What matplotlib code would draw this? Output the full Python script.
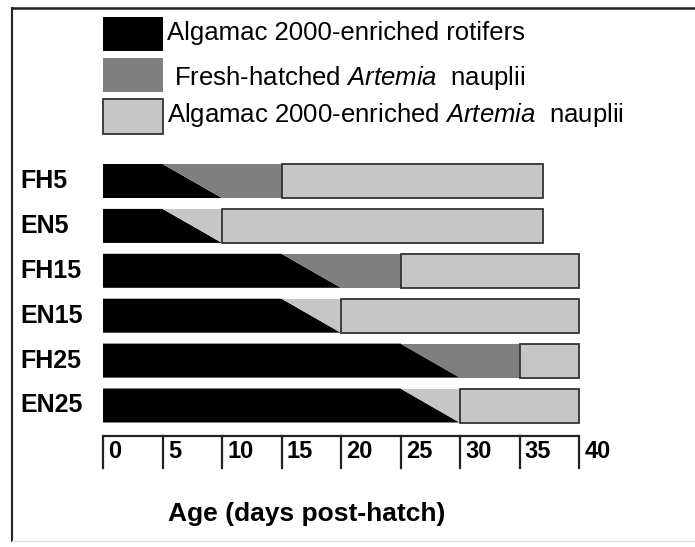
import matplotlib.pyplot as plt
from matplotlib.patches import Polygon, Rectangle
from matplotlib.lines import Line2D

plt.rcParams["font.family"] = ["Liberation Sans", "DejaVu Sans"]
plt.rcParams["mathtext.fontset"] = "custom"
plt.rcParams["mathtext.rm"] = "Liberation Sans"
plt.rcParams["mathtext.it"] = "Liberation Sans:italic"

groups = ["FH5", "EN5", "FH15", "EN15", "FH25", "EN25"]
# rotifers fed until the diagonal starts, weaned out by rot_end
rot_start = [5, 5, 15, 15, 25, 25]
rot_end = [10, 10, 20, 20, 30, 30]
# fresh-hatched Artemia end (None = none fed)
fresh_end = [15, None, 25, None, 35, None]
trial_end = [37, 37, 40, 40, 40, 40]
ticks = [0, 5, 10, 15, 20, 25, 30, 35, 40]
legend_labels = [
    "Algamac 2000-enriched rotifers",
    " Fresh-hatched $\\mathit{Artemia}$  nauplii",
    "Algamac 2000-enriched $\\mathit{Artemia}$  nauplii",
]

BLACK = "#000000"
DARK = "#7f7f7f"
LIGHT = "#c6c6c6"
EDGE = "#333333"

W, H = 695, 547
fig = plt.figure(figsize=(W / 100, H / 100), dpi=100)
ax = fig.add_axes([0, 0, 1, 1])

# pixel scale: x=0 at 103px, 11.9 px per day; first bar at 181px, 44.9 px pitch
px_day = 11.9
x0_px = 103
row_px = 44.9
y0_px = 181
ax.set_xlim(-x0_px / px_day, (W - x0_px) / px_day)
ax.set_ylim((H - y0_px) / row_px, -y0_px / row_px)
ax.axis("off")

hb = 34 / row_px / 2
for i, g in enumerate(groups):
    top, bot = i - hb, i + hb
    a, b = rot_start[i], rot_end[i]
    ax.add_patch(Polygon([(0, top), (a, top), (b, bot), (0, bot)],
                         closed=True, fc=BLACK, ec="none"))
    if fresh_end[i] is not None:
        m = fresh_end[i]
        ax.add_patch(Polygon([(a, top), (m, top), (m, bot), (b, bot)],
                             closed=True, fc=DARK, ec="none"))
        start = m
    else:
        ax.add_patch(Polygon([(a, top), (b, top), (b, bot)],
                             closed=True, fc=LIGHT, ec="none"))
        start = b
    ax.add_patch(Rectangle((start, top), trial_end[i] - start, bot - top,
                           fc=LIGHT, ec=EDGE, lw=1.3))
    ax.text(-(x0_px - 20) / px_day, i, g, ha="left", va="center",
            fontsize=18, fontweight="bold")

# hand-drawn style x axis
y_line = (436 - y0_px) / row_px
y_tick = (468 - y0_px) / row_px
y_lab = (452 - y0_px) / row_px
ax.plot([ticks[0], ticks[-1]], [y_line, y_line], color="#222222", lw=1.6,
        solid_capstyle="butt")
for t in ticks:
    ax.plot([t, t], [y_line, y_tick], color="#222222", lw=1.6)
    ax.text(t + 0.45, y_lab, str(t), ha="left", va="center",
            fontsize=17, fontweight="bold")

fig.text(307 / W, 1 - 514 / H, "Age (days post-hatch)", ha="center",
         va="center", fontsize=19, fontweight="bold")


def fx(p):
    return p / W


def fy(p):
    return 1 - p / H


# legend boxes
boxes = [(17, 51, BLACK, "none"), (58, 92, DARK, "none"), (99, 134, LIGHT, EDGE)]
text_y = [33, 78, 115]
for (t, b, fc, ec), lab, ty in zip(boxes, legend_labels, text_y):
    fig.add_artist(Rectangle((fx(103), fy(b)), fx(163) - fx(103), fy(t) - fy(b),
                             transform=fig.transFigure, fc=fc, ec=ec, lw=1.3))
    fig.text(fx(167), fy(ty), lab, ha="left", va="center", fontsize=18.5)

# frame lines
fig.add_artist(Line2D([fx(12), 1], [fy(8), fy(8)], transform=fig.transFigure,
                      color="#222222", lw=1.8))
fig.add_artist(Line2D([fx(12), fx(12)], [fy(8), fy(541)],
                      transform=fig.transFigure, color="#222222", lw=1.5))
fig.add_artist(Line2D([fx(12), 1], [fy(541), fy(541)],
                      transform=fig.transFigure, color="#dddddd", lw=1.0))

fig.savefig("out.png", dpi=100)
